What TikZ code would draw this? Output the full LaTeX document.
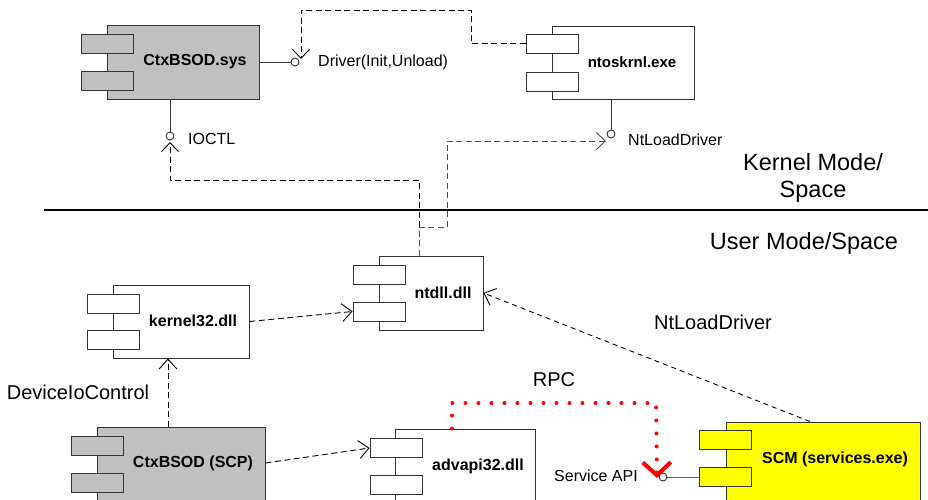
\documentclass[tikz,border=0pt]{standalone}
\usepackage{fontspec}
\setmainfont{Liberation Sans}
\usetikzlibrary{arrows.meta}
\definecolor{gsys}{HTML}{C0C0C0}
\definecolor{scmy}{HTML}{FFFF00}
\definecolor{rpcred}{HTML}{FF0000}
\begin{document}
\begin{tikzpicture}[x=1pt,y=-1pt,
  comp/.style={draw=black!80, line width=0.9pt, rectangle, inner sep=0pt},
  tab/.style={comp, minimum width=52pt, minimum height=19pt},
  lbl/.style={font=\fontsize{16pt}{19pt}\selectfont\bfseries, inner sep=0pt},
  txt/.style={font=\fontsize{16pt}{19pt}\selectfont, inner sep=0pt},
  bigtxt/.style={font=\fontsize{20pt}{24pt}\selectfont, inner sep=0pt},
  hugetxt/.style={font=\fontsize{23.5pt}{28pt}\selectfont, inner sep=0pt},
  dsh/.style={line width=0.9pt, dash pattern=on 6pt off 3.5pt},
  dep/.style={dsh, -{Straight Barb[length=10pt,width=18pt]}},
  sock/.style={dsh, -{Straight Barb[length=9pt,width=17pt]}},
  iface/.style={circle, draw=black!80, line width=0.9pt, fill=white, minimum size=8pt, inner sep=0pt},
  rpc/.style={draw=rpcred, line width=4pt, line cap=round, dash pattern=on 0pt off 13pt,
    -{Straight Barb[length=13pt,width=28pt]}},
]
\useasboundingbox (0,0) rectangle (928,500);
\clip (0,0) rectangle (928,500);

% CtxBSOD.sys
\node[comp, fill=gsys, minimum width=152pt, minimum height=74pt] (sys) at (183,62) {};
\node[tab, fill=gsys] (sysA) at (107,43.5) {};
\node[tab, fill=gsys] (sysB) at (107,81) {};
\node[lbl] (sysT) at (195,62) {CtxBSOD.sys};

% ntoskrnl.exe
\node[comp, fill=white, minimum width=142pt, minimum height=73pt] (ntos) at (623,62.5) {};
\node[tab, fill=white] (ntosA) at (552,43.5) {};
\node[tab, fill=white] (ntosB) at (552,81.5) {};
\node[lbl, font=\fontsize{15pt}{18pt}\selectfont\bfseries] (ntosT) at (632,62) {ntoskrnl.exe};

% ntdll.dll
\node[comp, fill=white, minimum width=104pt, minimum height=74pt] (ntdll) at (431,293) {};
\node[tab, fill=white] (ntdllA) at (379,274.5) {};
\node[tab, fill=white] (ntdllB) at (379,311.5) {};
\node[lbl] (ntdllT) at (443,293) {ntdll.dll};

% kernel32.dll
\node[comp, fill=white, minimum width=136pt, minimum height=73pt] (k32) at (181,321.5) {};
\node[tab, fill=white] (k32A) at (113,303.5) {};
\node[tab, fill=white] (k32B) at (113,340) {};
\node[lbl] (k32T) at (193,321) {kernel32.dll};

% CtxBSOD (SCP)
\node[comp, fill=gsys, minimum width=168pt, minimum height=80pt] (scp) at (181,467) {};
\node[tab, fill=gsys] (scpA) at (97,446) {};
\node[tab, fill=gsys] (scpB) at (97,482.5) {};
\node[lbl] (scpT) at (193,463) {CtxBSOD (SCP)};

% advapi32.dll
\node[comp, fill=white, minimum width=140pt, minimum height=80pt] (adv) at (465,469) {};
\node[tab, fill=white] (advA) at (396,448) {};
\node[tab, fill=white] (advB) at (396,485) {};
\node[lbl] (advT) at (478,466) {advapi32.dll};

% SCM (services.exe)
\node[comp, fill=scmy, minimum width=194pt, minimum height=80pt] (scm) at (823,462) {};
\node[tab, fill=scmy] (scmA) at (725,440) {};
\node[tab, fill=scmy] (scmB) at (725,477) {};
\node[lbl] (scmT) at (835,459) {SCM (services.exe)};

% interfaces
\node[iface] (drvC) at (295,62) {};
\node[iface] (ioC) at (170,136) {};
\node[iface] (ntlC) at (611,134) {};
\node[iface] (srvC) at (663,477) {};

\coordinate (drvS) at (301,59);
\coordinate (ioS) at (170,142);
\coordinate (ntlS) at (606,141);
\coordinate (rpcS) at (657,478);

% provided interfaces
\draw[draw=black!80, line width=0.9pt] (sys.east) -- (drvC.west);
\draw[draw=black!80, line width=0.9pt] (sys.south -| ioC) -- (ioC.north);
\draw[draw=black!80, line width=0.9pt] (ntos.south -| ntlC) -- (ntlC.north);
\draw[draw=black!60, line width=0.9pt] (srvC.east) -- (scmB.west);

% required interfaces (sockets)
\draw[sock] (ntosA.west) -- (471,43.5) -- (471,10) -- (301,10) -- (drvS);
\draw[sock] ([xshift=-12pt]ntdll.north) -- (419,180) -- (170,180) -- (ioS);
\draw[sock, draw=black!70] ([xshift=-12pt]ntdll.north) -- (419,227) -- (447,227) -- (447,141) -- (ntlS);

% dependencies
\draw[dep] (k32.east) -- (ntdllB.west);
\draw[dep] ([xshift=-13pt]scp.north) -- ([xshift=-13pt]k32.south);
\draw[dep] (scp.east |- scpT) -- (advA.west);
\draw[dep, dash pattern=on 5pt off 4pt] ([xshift=-13pt]scm.north) -- (ntdll.east);

% RPC
\draw[rpc] ([xshift=-13pt]adv.north) -- (452,403) -- (656,403) -- (rpcS);

% separator
\coordinate (sepL) at (44,210);
\coordinate (sepR) at (930,210);
\draw[line width=2pt] (sepL) -- (sepR);

% labels
\node[txt, anchor=west] (drvL) at (318,62) {Driver(Init,Unload)};
\node[txt, anchor=west] (ioL) at (188,139) {IOCTL};
\node[txt, anchor=west] (ntlL) at (628,140) {NtLoadDriver};
\node[hugetxt] (kmL) at (813,162) {Kernel Mode/};
\node[hugetxt] (ksL) at (813,192) {Space};
\node[hugetxt] (umL) at (804,243) {User Mode/Space};
\node[bigtxt] (ntl2L) at (713,322) {NtLoadDriver};
\node[bigtxt] (dioL) at (78,392) {DeviceIoControl};
\node[bigtxt] (rpcL) at (554,380) {RPC};
\node[txt] (srvL) at (596,476) {Service API};
\end{tikzpicture}
\end{document}
